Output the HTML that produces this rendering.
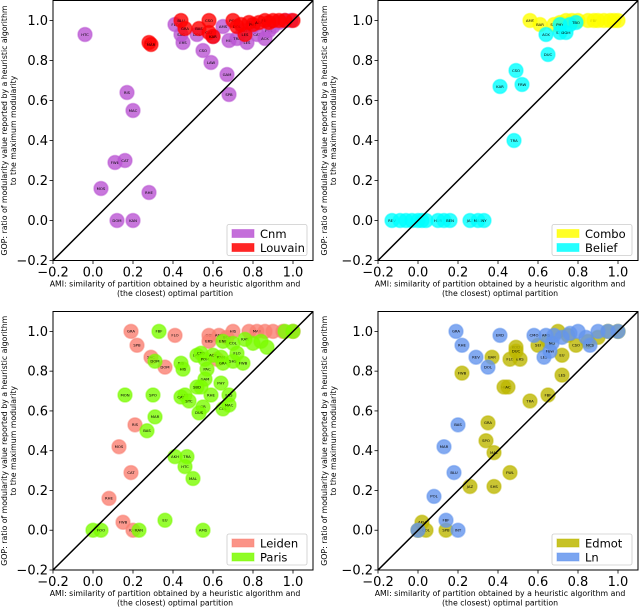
<!DOCTYPE html>
<html><head><meta charset="utf-8"><style>
body{margin:0;background:#fff;}
svg{display:block;font-family:"DejaVu Sans","Liberation Sans",sans-serif;}
</style></head><body>
<svg id="fig" width="640" height="609" viewBox="0 0 640 609"></svg>
<script>
// Tick values shared by all panels
const xTicks = [-0.2, 0.0, 0.2, 0.4, 0.6, 0.8, 1.0];
const yTicks = [-0.2, 0.0, 0.2, 0.4, 0.6, 0.8, 1.0];

// Panel 1: Cnm / Louvain
const cnmX = [-0.04,0.17,0.20,0.11,0.16,0.04,0.28,0.12,0.20,0.55,0.59,0.67,0.68,0.45,0.41,0.44,0.52,0.60,0.65,0.68,0.72,0.77,0.82,0.86,0.88,0.90,0.93,0.96,0.99,0.75,0.80];
const cnmY = [0.93,0.64,0.55,0.29,0.30,0.16,0.14,0.00,0.00,0.85,0.79,0.73,0.63,0.89,0.98,0.93,0.93,0.92,0.97,0.90,0.91,0.89,0.93,0.91,0.95,0.97,0.99,1.00,1.00,0.95,0.97];
const cnmL = ["HTC","RIS","MAC","FWB","CAT","MOS","RHE","DOM","KAN","CSO","LAW","GAM","SPB","ERS","FLO","SAC","DOL","INT","AMS","HIS","TRA","LES","CAT","ACK","POL","JAZ","","","","ECO","SEI"];
const louX = [0.28,0.29,0.44,0.46,0.53,0.58,0.58,0.60,0.70,0.72,0.76,0.78,0.80,0.83,0.86,0.90,0.93,0.96,1.00,0.88,0.74];
const louY = [0.89,0.88,1.00,0.96,0.96,1.00,0.94,0.92,1.00,0.97,0.93,0.99,0.98,0.99,1.00,1.00,1.00,1.00,1.00,0.99,0.98];
const louL = ["DOL","MAR","BLU","GRA","BAS","CSO","CAT","KAR","POL","DOL","LES","SEI","PHY","ACK","FBF","","","","","",""];

// Panel 2: Combo / Belief
const comboX = [0.56,0.61,0.68,0.71,0.74,0.77,0.80,0.85,0.88,0.90,0.93,0.96,0.98,1.00];
const comboY = [1.00,0.98,0.98,0.99,1.00,1.00,1.00,1.00,1.00,1.00,1.00,1.00,1.00,1.00];
const comboL = ["AMS","BAR","SPB","","","","","","FBF","","","","",""];
const beliefX = [0.64,0.71,0.74,0.71,0.76,0.79,0.65,0.49,0.41,0.52,0.48,-0.13,-0.09,-0.06,-0.03,0.00,0.02,0.04,0.10,0.13,0.16,0.26,0.30,0.33];
const beliefY = [0.93,0.94,0.94,0.98,0.98,0.99,0.83,0.75,0.67,0.68,0.40,0,0,0,0,0,0,0,0,0,0,0,0,0];
const beliefL = ["ACK","STO","DGM","PHY","","TBO","DUC","CSO","KAR","FRW","TRA","REV","","","","","","","HUR","","BEN","JAZ","MAD","NY"];

// Panel 3: Leiden / Paris
const leidenX = [0.19,0.41,0.22,0.29,0.36,0.21,0.13,0.19,0.08,0.15,0.20,0.58,0.58,0.63,0.67,0.70,0.78,0.82,0.86,0.90,0.95,1.00,0.62];
const leidenY = [1.00,0.98,0.93,0.87,0.82,0.53,0.42,0.29,0.16,0.04,0.00,0.98,0.95,0.98,0.97,1.00,1.00,1.00,1.00,1.00,1.00,1.00,0.86];
const leidenL = ["GRA","FLO","SPB","SAC","DOM","RIS","MOS","CAT","RHE","FWB","KAN","ODI","ERS","AMS","BOS","HIS","","MAR","","","","",""];
const parisX = [0.33,0.31,0.44,0.45,0.16,0.30,0.31,0.27,0.41,0.47,0.46,0.50,0.36,0.55,0.00,0.04,0.23,0.52,0.54,0.56,0.60,0.57,0.64,0.65,0.70,0.75,0.56,0.54,0.52,0.46,0.44,0.48,0.59,0.68,0.64,0.55,0.53,0.65,0.68,0.65,0.70,0.72,0.76,0.80,0.84,0.87,0.96,1.00];
const parisY = [1.00,0.85,0.84,0.81,0.68,0.68,0.57,0.50,0.37,0.37,0.32,0.26,0.05,0.00,0.00,0.00,0.00,0.88,0.89,0.86,0.88,0.81,0.87,0.84,0.85,0.84,0.76,0.72,0.72,0.68,0.67,0.65,0.68,0.68,0.74,0.62,0.59,0.61,0.63,0.95,0.94,0.89,0.96,0.94,0.95,0.92,1.00,1.00];
const parisL = ["FBF","DOM","RIS","HIS","MON","SPO","MAR","BAS","AKH","TRA","HTC","MAL","EU","AMS","","FOO","KAN","LAW","CSO","POM","ACK","PAC","KAN","GRA","SHS","FWB","GAM","","SBD","LES","CAT","STC","RHE","FBS","PHY","GR","DUS","COL","MAC","ENE","COL","FLO","KAR","","","","",""];

// Panel 4: Edmot / Ln
const edmotX = [0.22,0.37,0.46,0.51,0.49,0.49,0.43,0.45,0.56,0.65,0.72,0.72,0.35,0.34,0.38,0.46,0.26,0.38,0.02,0.00,0.04,0.14,0.60,0.65,0.70,0.79,0.85,0.90,0.95,1.00,0.75];
const edmotY = [0.79,0.87,0.86,0.86,0.92,0.90,0.72,0.72,0.65,0.68,0.78,0.88,0.54,0.45,0.39,0.29,0.22,0.22,0.04,0.00,0.00,0.00,0.93,0.95,1.00,0.93,0.95,0.97,1.00,1.00,0.98];
const edmotL = ["FWB","BAR","FLO","ERS","KOD","DUC","HB","AC","TRA","FBF","LES","EU","GRA","SPO","MAL","FWL","JAZ","SHS","AKH","","COL","SPB","SEI","","","CSO","","","","",""];
const lnX = [0.19,0.22,0.29,0.35,0.41,0.58,0.63,0.66,0.67,0.64,0.68,0.72,0.76,0.80,0.84,0.86,0.90,0.95,1.00,0.20,0.13,0.18,0.08,0.14,0.20,0.00];
const lnY = [1.00,0.93,0.87,0.82,0.98,0.98,0.87,0.90,0.94,0.98,0.98,0.97,0.99,1.00,0.97,0.93,1.00,1.00,1.00,0.53,0.42,0.29,0.17,0.05,0.00,0.00];
const lnL = ["GRA","RHE","REV","DOL","ERD","CMO","LES","FBW","NCI","AMS","","","","","","NCS","","","","BAS","MAR","BLU","POL","FBF","INT",""];

const NS = "http://www.w3.org/2000/svg";
const svg = document.getElementById('fig');
function mk(tag, attrs, parent){
  const e = document.createElementNS(NS, tag);
  for (const k in attrs) e.setAttribute(k, attrs[k]);
  (parent||svg).appendChild(e);
  return e;
}
function fmt(v){ return (v < 0 ? "\u2212" : "") + Math.abs(v).toFixed(1); }

function panel(cfg){
  const L = cfg.left, T = cfg.top, W = 260, H = cfg.h;
  const xs = v => L + (v + 0.2) / 1.3 * W;
  const ys = v => T + H - (v + 0.2) / 1.3 * H;
  const g = mk('g', {});
  
  
  const clipId = cfg.name + '-clip';
  const cp = mk('clipPath', {id: clipId}, g);
  mk('rect', {x: L, y: T, width: W, height: H}, cp);

  cfg.series.forEach(s => {
    const sg = mk('g', {'clip-path': 'url(#' + clipId + ')'}, g);
    
    
    for (let i = 0; i < s.x.length; i++){
      const c = mk('circle', {cx: xs(s.x[i]), cy: ys(s.y[i]), r: 7, fill: s.color, 'fill-opacity': 0.8, stroke: s.color, 'stroke-opacity': 0.5, 'stroke-width': 1.5}, sg);
      
      
      if (s.labels[i]) {
        const t = mk('text', {x: xs(s.x[i]), y: ys(s.y[i]) + 1.3, 'font-size': 3.8, 'text-anchor': 'middle', fill: '#000'}, sg);
        t.textContent = s.labels[i];
        
        
      }
    }
  });

  const d = mk('line', {x1: xs(-0.2), y1: ys(-0.2), x2: xs(1.1), y2: ys(1.1), stroke: '#000', 'stroke-width': 1.5}, g);
  
  

  const fr = mk('rect', {x: L, y: T, width: W, height: H, fill: 'none', stroke: '#000', 'stroke-width': 1}, g);
  
  

  xTicks.forEach(v => {
    const x = xs(v);
    mk('line', {x1: x, y1: T + H, x2: x, y2: T + H + 3.5, stroke: '#000', 'stroke-width': 0.8}, g);
    const t = mk('text', {x: x, y: T + H + 16, 'font-size': 13, 'text-anchor': 'middle'}, g);
    t.textContent = fmt(v);
    
    
  });
  yTicks.forEach(v => {
    const y = ys(v);
    mk('line', {x1: L - 3.5, y1: y, x2: L, y2: y, stroke: '#000', 'stroke-width': 0.8}, g);
    const t = mk('text', {x: L - 5, y: y + 4.5, 'font-size': 13, 'text-anchor': 'end'}, g);
    t.textContent = fmt(v);
    
    
  });

  const xt1 = mk('text', {x: L + W/2 - 8, y: T + H + 26, 'font-size': 7.8, 'text-anchor': 'middle'}, g);
  xt1.textContent = 'AMI: similarity of partition obtained by a heuristic algorithm and';
  
  
  const xt2 = mk('text', {x: L + W/2 - 8, y: T + H + 35.5, 'font-size': 7.8, 'text-anchor': 'middle'}, g);
  xt2.textContent = '(the closest) optimal partition';
  
  
  const cy = T + H/2;
  const yt1 = mk('text', {x: 0, y: 0, 'font-size': 7.8, 'text-anchor': 'middle', transform: 'translate(' + (cfg.ylx) + ',' + cy + ') rotate(-90)'}, g);
  yt1.textContent = 'GOP: ratio of modularity value reported by a heuristic algorithm';
  
  
  const yt2 = mk('text', {x: 0, y: 0, 'font-size': 7.8, 'text-anchor': 'middle', transform: 'translate(' + (cfg.ylx + 9) + ',' + cy + ') rotate(-90)'}, g);
  yt2.textContent = 'to the maximum modularity';
  
  

  const lx = L + W - 86, ly = T + H - 36;
  const lg = mk('g', {}, g);
  
  
  mk('rect', {x: lx, y: ly, width: 80, height: 31, rx: 2, fill: '#fff', 'fill-opacity': 0.85, stroke: '#ccc', 'stroke-width': 0.8}, lg);
  cfg.series.forEach((s, i) => {
    const yy = ly + 5 + i * 14;
    const p = mk('rect', {x: lx + 5, y: yy, width: 22, height: 8, fill: s.color, 'fill-opacity': 0.85, stroke: s.color, 'stroke-opacity': 0.5}, lg);
    
    
    const t = mk('text', {x: lx + 33, y: yy + 8.5, 'font-size': 11.5}, lg);
    t.textContent = s.name;
    
    
  });
}

panel({name: 'panel-cnm-louvain', left: 53, top: 0.5, h: 260, ylx: 7, series: [
  {key: 'cnm', name: 'Cnm', color: '#ba55d3', x: cnmX, y: cnmY, labels: cnmL},
  {key: 'louvain', name: 'Louvain', color: '#ff0000', x: louX, y: louY, labels: louL}]});
panel({name: 'panel-combo-belief', left: 378, top: 0.5, h: 260, ylx: 327, series: [
  {key: 'combo', name: 'Combo', color: '#ffff00', x: comboX, y: comboY, labels: comboL},
  {key: 'belief', name: 'Belief', color: '#00ffff', x: beliefX, y: beliefY, labels: beliefL}]});
panel({name: 'panel-leiden-paris', left: 53, top: 311.5, h: 258.5, ylx: 7, series: [
  {key: 'leiden', name: 'Leiden', color: '#fa8072', x: leidenX, y: leidenY, labels: leidenL},
  {key: 'paris', name: 'Paris', color: '#7cfc00', x: parisX, y: parisY, labels: parisL}]});
panel({name: 'panel-edmot-ln', left: 378, top: 311.5, h: 258.5, ylx: 327, series: [
  {key: 'edmot', name: 'Edmot', color: '#bdb700', x: edmotX, y: edmotY, labels: edmotL},
  {key: 'ln', name: 'Ln', color: '#6495ed', x: lnX, y: lnY, labels: lnL}]});
</script>
</body></html>
